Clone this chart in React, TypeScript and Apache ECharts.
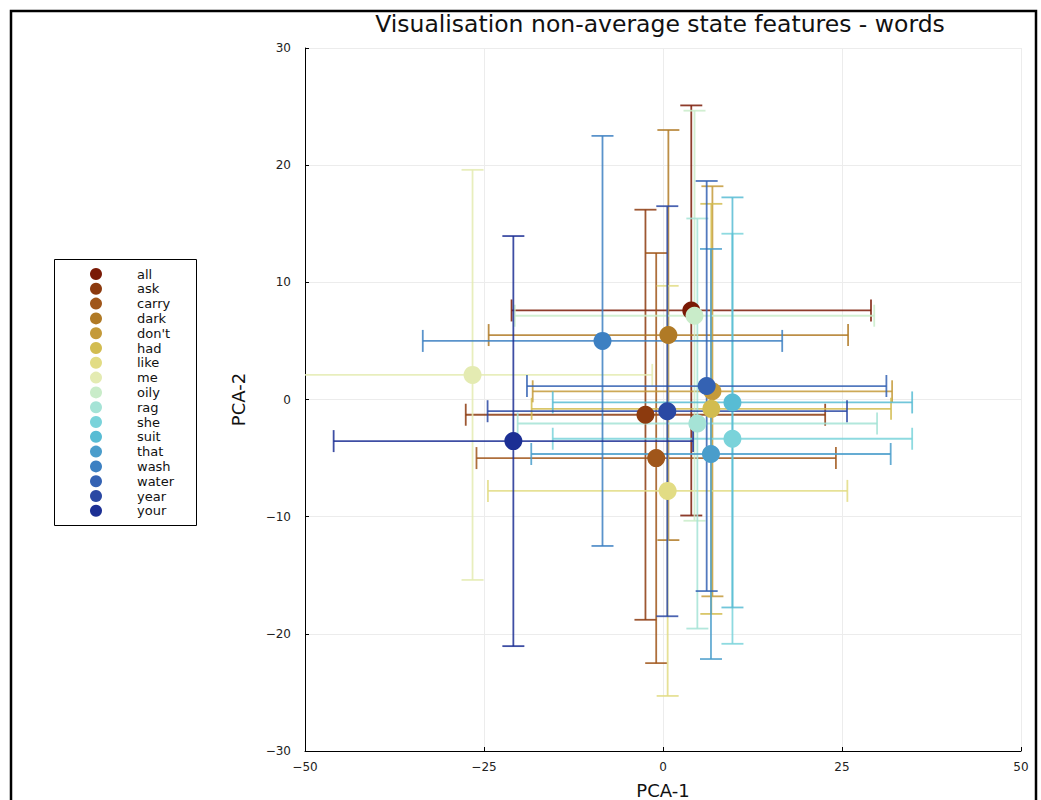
import React, { useEffect, useRef } from "react";
import * as echarts from "echarts";

const words = ["all", "ask", "carry", "dark", "don't", "had", "like", "me", "oily", "rag", "she", "suit", "that", "wash", "water", "year", "your"];
const colors = ["#7a1a06", "#8c3a0e", "#a0561a", "#b07a26", "#c49a3a", "#d2bc50", "#e2dc84", "#e4ebb2", "#c9ecc9", "#a5e3d6", "#7ad3da", "#58bcd4", "#4a9dcb", "#3d80c2", "#3462b3", "#2a48a3", "#1c2f94"];
const pcaX = [3.95, -2.45, -0.95, 0.75, 6.9, 6.75, 0.65, -26.6, 4.4, 4.8, 9.7, 9.7, 6.7, -8.45, 6.1, 0.6, -20.9];
const pcaY = [7.6, -1.3, -5.0, 5.5, 0.7, -0.8, -7.8, 2.1, 7.15, -2.05, -3.35, -0.25, -4.65, 5.0, 1.15, -1.0, -3.55];
const errX = [25.1, 25.1, 25.1, 25.1, 25.1, 25.1, 25.1, 25.1, 25.1, 25.1, 25.1, 25.1, 25.1, 25.1, 25.1, 25.1, 25.1];
const errY = [17.5, 17.5, 17.5, 17.5, 17.5, 17.5, 17.5, 17.5, 17.5, 17.5, 17.5, 17.5, 17.5, 17.5, 17.5, 17.5, 17.5];
const xTicks = { min: -50, max: 50, interval: 25 };
const yTicks = { min: -30, max: 30, interval: 10 };

const titleText = "Visualisation non-average state features - words";
const FONT = "DejaVu Sans";

export default function App() {
  const ref = useRef<HTMLDivElement>(null);
  useEffect(() => {
    document.body.style.margin = "0";
    const chart = echarts.init(ref.current!, null, { renderer: "svg" });
    const series: any[] = [];
    words.forEach((w, i) => {
      const color = colors[i];
      series.push({
        type: "custom",
        name: w + "-err",
        silent: true,
        z: 2,
        encode: { x: 0, y: 1 },
        data: [[pcaX[i], pcaY[i], errX[i], errY[i]]],
        renderItem: (params: any, api: any) => {
          const x = api.value(0), y = api.value(1), ex = api.value(2), ey = api.value(3);
          const cs = params.coordSys;
          const minX = cs.x, maxX = cs.x + cs.width, minY = cs.y, maxY = cs.y + cs.height;
          const cx = (v: number) => Math.max(minX, Math.min(maxX, v));
          const cy = (v: number) => Math.max(minY, Math.min(maxY, v));
          const c = api.coord([x, y]);
          const l = api.coord([x - ex, y]);
          const r = api.coord([x + ex, y]);
          const t = api.coord([x, y + ey]);
          const b = api.coord([x, y - ey]);
          const cap = 11;
          const style = { stroke: color, lineWidth: 1.8, opacity: 0.85 };
          const children: any[] = [
            { type: "line", shape: { x1: cx(l[0]), y1: c[1], x2: cx(r[0]), y2: c[1] }, style },
            { type: "line", shape: { x1: c[0], y1: cy(t[1]), x2: c[0], y2: cy(b[1]) }, style },
          ];
          if (l[0] >= minX) children.push({ type: "line", shape: { x1: l[0], y1: c[1] - cap, x2: l[0], y2: c[1] + cap }, style });
          if (r[0] <= maxX) children.push({ type: "line", shape: { x1: r[0], y1: c[1] - cap, x2: r[0], y2: c[1] + cap }, style });
          if (t[1] >= minY) children.push({ type: "line", shape: { x1: c[0] - cap, y1: t[1], x2: c[0] + cap, y2: t[1] }, style });
          if (b[1] <= maxY) children.push({ type: "line", shape: { x1: c[0] - cap, y1: b[1], x2: c[0] + cap, y2: b[1] }, style });
          return { type: "group", children };
        },
      });
      series.push({
        type: "scatter",
        name: w,
        z: 2,
        symbol: "circle",
        symbolSize: 18,
        itemStyle: { color, opacity: 1 },
        data: [[pcaX[i], pcaY[i]]],
      });
    });

    const legendTop = 274;
    const legendStep = 14.8;
    const legendItems: any[] = [];
    words.forEach((w, i) => {
      legendItems.push({ type: "circle", shape: { cx: 96, cy: legendTop + i * legendStep, r: 6 }, style: { fill: colors[i] } });
      legendItems.push({
        type: "text",
        x: 137,
        y: legendTop + i * legendStep,
        style: { text: w, fill: "#111", font: `13px '${FONT}'`, textVerticalAlign: "middle" },
      });
    });

    const minus = (v: number) => String(v).replace("-", "\u2212");

    chart.setOption({
      animation: false,
      backgroundColor: "#ffffff",
      grid: { left: 305, right: 20, top: 48, bottom: 49, containLabel: false, outerBoundsMode: "none" },
      xAxis: {
        type: "value",
        ...xTicks,
        name: "PCA-1",
        nameLocation: "middle",
        nameGap: 30,
        nameTextStyle: { fontFamily: FONT, fontSize: 18, color: "#111" },
        axisLine: { onZero: false, lineStyle: { color: "#000", width: 1 } },
        axisTick: { inside: true, length: 4, lineStyle: { color: "#000" } },
        axisLabel: { formatter: minus, fontFamily: FONT, fontSize: 12, color: "#222", margin: 10 },
        splitLine: { show: true, lineStyle: { color: "#ececec", width: 1 } },
      },
      yAxis: {
        type: "value",
        ...yTicks,
        name: "PCA-2",
        nameLocation: "middle",
        nameGap: 58,
        nameRotate: 90,
        nameTextStyle: { fontFamily: FONT, fontSize: 18, color: "#111" },
        axisLine: { show: true, onZero: false, lineStyle: { color: "#000", width: 1 } },
        axisTick: { show: true, inside: true, length: 4, lineStyle: { color: "#000" } },
        axisLabel: { formatter: minus, fontFamily: FONT, fontSize: 12, color: "#222", margin: 14 },
        splitLine: { show: true, lineStyle: { color: "#ececec", width: 1 } },
      },
      graphic: [
        { type: "rect", shape: { x: 11, y: 11, width: 1025, height: 800 }, style: { fill: "none", stroke: "#000", lineWidth: 2.5 }, z: 10 },
        {
          type: "text",
          x: 660,
          y: 24,
          style: { text: titleText, fill: "#111", font: `23.5px '${FONT}'`, textAlign: "center", textVerticalAlign: "middle" },
        },
        { type: "rect", shape: { x: 54.5, y: 259.5, width: 142, height: 266 }, style: { fill: "#fff", stroke: "#000", lineWidth: 1 } },
        ...legendItems,
      ],
      series,
    });
    return () => chart.dispose();
  }, []);
  return <div ref={ref} style={{ width: 1041, height: 800 }} />;
}
